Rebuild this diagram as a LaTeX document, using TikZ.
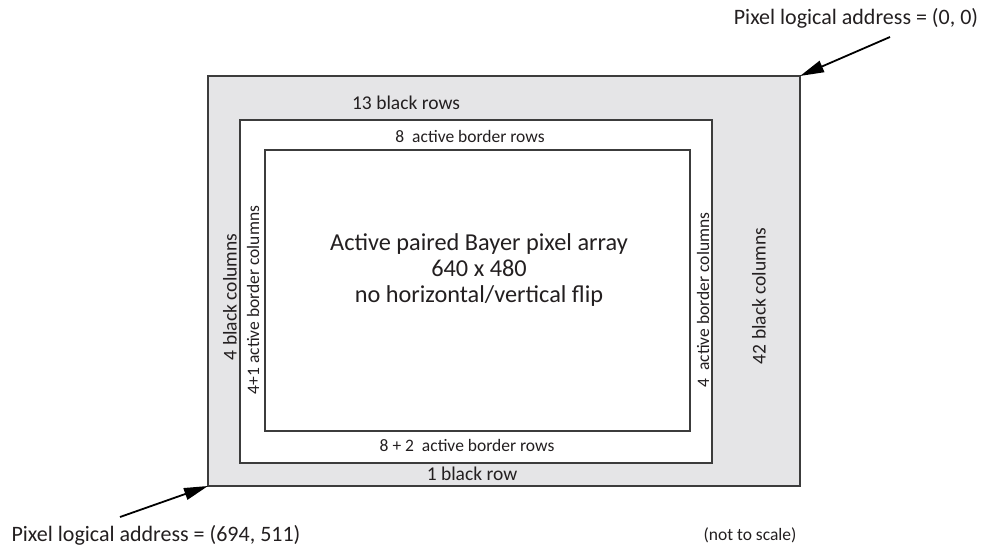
\documentclass[tikz,border=0pt]{standalone}
\usepackage{fontspec}
\setmainfont{Carlito}
\usetikzlibrary{positioning,calc}
\usetikzlibrary{arrows.meta}
\definecolor{BlackRows}{RGB}{229,229,231}
\definecolor{FrameGray}{RGB}{60,60,60}
\definecolor{InkGray}{RGB}{35,31,32}
\tikzset{
  frame/.style={draw=FrameGray,line width=1.5pt},
  big/.style={text=InkGray,inner sep=0pt,font=\fontsize{22}{26}\selectfont},
  mid/.style={text=InkGray,inner sep=0pt,font=\fontsize{19.5}{23}\selectfont},
  small/.style={text=InkGray,inner sep=0pt,font=\fontsize{17.5}{21}\selectfont},
  pointer/.style={draw=black,line width=1.8pt,-{Triangle[length=24pt,width=12pt]}},
}

\begin{document}
\begin{tikzpicture}[x=1pt,y=-1pt]
\useasboundingbox (0,0) rectangle (991,548);
% corners of the three frames
\coordinate (o1) at (208,76);
\coordinate (o2) at (800,486);
\coordinate (m1) at (240,120);
\coordinate (m2) at (712,463);
\coordinate (i1) at (265,150);
\coordinate (i2) at (690,431);
\coordinate (ob) at (208,486);
\draw[frame,fill=BlackRows] (o1) rectangle (o2);
\draw[frame,fill=white] (m1) rectangle (m2);
\draw[frame,fill=white] (i1) rectangle (i2);
% rows and columns
\node[mid] (top) at (406,103) {13 black rows};
\node[small] (topact) at (470,136) {8\ \ active border rows};
\node[small] (botact) at (467,445) {8 + 2\ \ active border rows};
\node[mid] (bot) at (472,474) {1 black row};
\node[mid,rotate=90] (left) at (230,297) {4 black columns};
\node[small,rotate=90] (leftact) at (253,300) {4+1 active border columns};
\node[small,rotate=90] (rightact) at (703,300) {4\ \ active border columns};
\node[mid,rotate=90] (right) at (759,296) {42 black columns};
\node[big,align=center,font=\fontsize{24.3}{26}\selectfont] (array) at (479,270) {Active paired Bayer pixel array\\640 x 480\\no horizontal/vertical flip};
% addresses
\node[big] (first) at (856,18) {Pixel logical address = (0, 0)};
\node[big] (last) at (156,535) {Pixel logical address = (694, 511)};
\node[small] (note) at (750,535) {(not to scale)};
\coordinate (a1) at (890,37);
\coordinate (a2) at (120,517);
\draw[pointer] (a1) -- (o2 |- o1);
\draw[pointer] (a2) -- (ob);
\end{tikzpicture}
\end{document}
